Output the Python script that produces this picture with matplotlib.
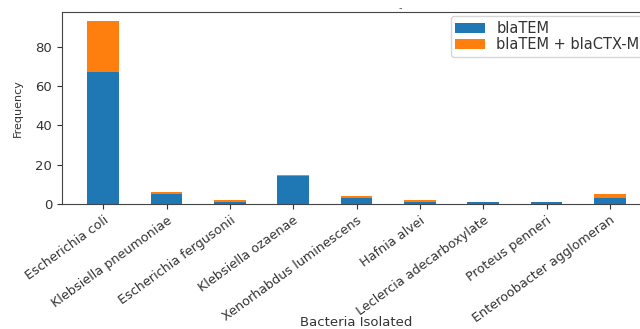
import numpy as np
import matplotlib
matplotlib.use("Agg")
import matplotlib.pyplot as plt


bacteria = [
    "Escherichia coli",
    "Klebsiella pneumoniae",
    "Escherichia fergusonii",
    "Klebsiella ozaenae",
    "Xenorhabdus luminescens",
    "Hafnia alvei",
    "Leclercia adecarboxylate",
    "Proteus penneri",
    "Enteroobacter agglomeran",
]
bla_tem = [67, 5, 1, 14, 3, 1, 1, 1, 3]
bla_tem_ctx = [26, 1, 1, 1, 1, 1, 0, 0, 2]


def plot_stacked(output_path):
    fig = plt.figure(figsize=(6.4, 3.29), dpi=100)
    # axes runs a little past the right edge, as in the cropped original
    ax = fig.add_axes([62 / 640, 125 / 329, 589 / 640, 192 / 329])

    x = np.arange(len(bacteria))
    tem = np.asarray(bla_tem)
    ctx = np.asarray(bla_tem_ctx)

    ax.bar(x, tem, width=0.5, color="#1f77b4", label="blaTEM")
    ax.bar(x, ctx, width=0.5, bottom=tem, color="#ff7f0e", label="blaTEM + blaCTX-M")

    ax.set_xlim(-0.65, 8.65)
    ax.set_ylim(0, (tem + ctx).max() * 1.05)
    ax.set_yticks([0, 20, 40, 60, 80])
    ax.set_xticks(x)
    ax.set_xticklabels(bacteria, rotation=36, ha="right", rotation_mode="anchor", fontsize=9.2)
    ax.tick_params(axis="y", labelsize=9.5, colors="#333333")
    ax.tick_params(axis="x", colors="#333333")

    ax.set_xlabel("Bacteria Isolated", fontsize=9.5, color="#333333")
    ax.set_ylabel("Frequency", fontsize=8, color="#333333")
    ax.yaxis.set_label_coords(-0.067, 0.5)
    ax.xaxis.set_label_coords(0.5, -0.585)

    for s in ax.spines.values():
        s.set_color("#444444")

    ax.legend(loc="upper right", fontsize=10.5, labelspacing=0.1, borderpad=0.3,
              borderaxespad=0.3, bbox_to_anchor=(0.995, 1.0), labelcolor="#333333")
    fig.text(400 / 640, 1 - 8 / 329, "-", ha="center", va="center", fontsize=7, color="#555555")

    fig.savefig(output_path, dpi=100)
    plt.close(fig)


plot_stacked("out.png")
